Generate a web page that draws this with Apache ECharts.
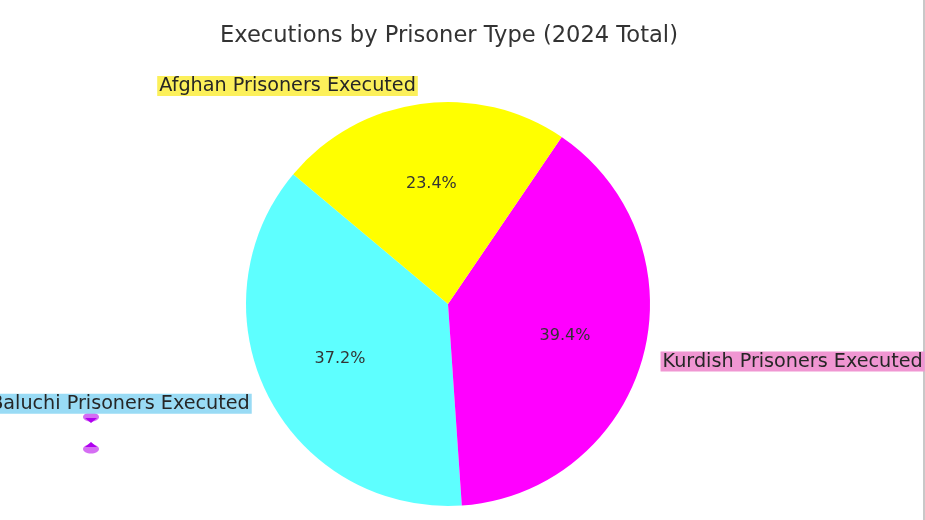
<!DOCTYPE html>
<html>
<head>
  <meta charset="utf-8">
  <title>Executions by Prisoner Type</title>
  <script src="https://cdn.jsdelivr.net/npm/echarts@6/dist/echarts.min.js"></script>
  <style>
    html, body { margin: 0; padding: 0; background: #fff; }
  </style>
</head>
<body>
<div id="main" style="width: 925px;height:520px;"></div>
<script type="text/javascript">
  // data (share of 2024 total, %)
  var categories = ['Baluchi Prisoners Executed', 'Kurdish Prisoners Executed', 'Afghan Prisoners Executed'];
  var shares = [37.2, 39.4, 23.4];
  var sliceColors = ['#5effff', '#ff00ff', '#ffff00'];
  var labelBoxColors = ['#99dbf5', '#f096d2', '#fcf05a'];

  var R = 202;
  var center = [448, 304];
  var font = 'DejaVu Sans';

  var myChart = echarts.init(document.getElementById('main'));

  var nameData = categories.map(function (c, i) {
    return {
      name: c,
      value: shares[i],
      itemStyle: { color: sliceColors[i] },
      label: { backgroundColor: labelBoxColors[i] }
    };
  });

  var pctData = categories.map(function (c, i) {
    return { name: c, value: shares[i] };
  });

  var option = {
    animation: false,
    title: {
      text: 'Executions by Prisoner Type (2024 Total)',
      left: 215,
      top: 20,
      textStyle: { fontFamily: font, fontSize: 22.6, fontWeight: 'normal', color: '#333' }
    },
    graphic: [
      { type: 'rect', right: 0, top: 0, shape: { width: 2, height: 520 }, style: { fill: '#c8c8c8' } },
      // two stray marker glyphs under the left label
      { type: 'ellipse', shape: { cx: 91, cy: 417, rx: 8, ry: 4.5 }, style: { fill: '#d56ef3' } },
      { type: 'polygon', shape: { points: [[85, 418], [97, 418], [91, 423]] }, style: { fill: '#b000f0' } },
      { type: 'ellipse', shape: { cx: 91, cy: 449, rx: 8, ry: 4.5 }, style: { fill: '#d56ef3' } },
      { type: 'polygon', shape: { points: [[85, 447], [97, 447], [91, 442]] }, style: { fill: '#b000f0' } }
    ],
    series: [
      {
        type: 'pie',
        center: center,
        radius: [0, R],
        startAngle: 140,
        clockwise: false,
        avoidLabelOverlap: false,
        silent: true,
        data: nameData,
        label: {
          show: true,
          position: 'outside',
          distanceToLabelLine: 0,
          fontFamily: font,
          fontSize: 19.2,
          color: '#262626',
          lineHeight: 20,
          padding: [0, 2]
        },
        labelLine: { show: false, length: R * 0.1 - 2, length2: 0 },
        emphasis: { disabled: true }
      },
      {
        type: 'pie',
        center: center,
        radius: [0, R * 1.17],
        startAngle: 140,
        clockwise: false,
        avoidLabelOverlap: false,
        silent: true,
        data: pctData,
        itemStyle: { color: 'rgba(0,0,0,0)' },
        label: {
          show: true,
          position: 'inside',
          fontFamily: font,
          fontSize: 16,
          color: '#333',
          formatter: function (p) { return p.value.toFixed(1) + '%'; }
        },
        labelLine: { show: false },
        emphasis: { disabled: true }
      }
    ]
  };

  myChart.setOption(option);
</script>
</body>
</html>
